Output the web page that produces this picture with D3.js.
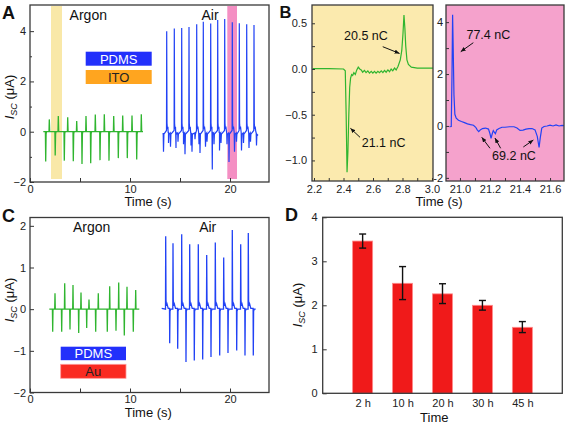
<!DOCTYPE html>
<html><head><meta charset="utf-8">
<script src="https://cdn.jsdelivr.net/npm/d3@7"></script>
<style>body{margin:0;background:#fff}svg{display:block}</style>
</head><body><svg id="c" width="567" height="423"></svg>
<script>
const FONT = "Arial, 'Liberation Sans', sans-serif";

// ---------- Panel A data (PDMS / ITO) ----------
const argonA_negT = [1.57, 2.52, 3.43, 4.33, 5.2, 6.07, 7.0, 7.9, 8.83, 9.73, 10.67];
const argonA_negV = [-1.18, -0.95, -1.15, -1.17, -1.28, -1.25, -1.13, -1.15, -1.05, -1.05, -1.1];
const argonA_posT = [1.93, 2.83, 3.77, 4.67, 5.6, 6.53, 7.43, 8.37, 9.27, 10.2, 11.13];
const argonA_posV = [0.49, 0.62, 0.57, 0.43, 0.62, 0.68, 0.69, 0.62, 0.64, 0.64, 0.69];
const airA_posT = [13.67, 14.43, 15.17, 15.9, 16.67, 17.33, 18.07, 18.77, 19.47, 20.23, 20.93, 21.67, 22.4];
const airA_posV = [4.0, 4.11, 4.13, 4.16, 4.27, 4.37, 4.3, 4.44, 4.48, 4.35, 4.31, 4.27, 4.24];
const airA_dipT = [13.35, 13.85, 14.05, 14.6, 14.8, 15.35, 15.5, 16.1, 16.2, 16.5, 16.9, 17.0, 17.55, 17.7, 18.23, 18.4, 18.95, 19.1, 19.7, 19.9, 20.45, 20.65, 21.15, 21.35, 21.9, 22.05, 22.65];
const airA_dipV = [-0.8, -0.45, -0.6, -0.65, -0.4, -0.5, -0.9, -0.55, -0.8, -0.3, -0.5, -0.85, -0.6, -0.4, -1.5, -0.5, -0.75, -0.45, -0.5, -1.2, -0.8, -0.4, -0.75, -0.45, -0.65, -0.4, -0.55];
const bandsA = [[2.1, 3.2], [19.73, 20.7]];

// ---------- Panel B data ----------
const zoomArgonT = [2.19, 2.30, 2.40, 2.412, 2.418, 2.424, 2.430, 2.436, 2.442, 2.448, 2.455, 2.462, 2.47, 2.48, 2.49, 2.50, 2.51,
  2.52, 2.53, 2.542, 2.553, 2.565, 2.576, 2.588, 2.599, 2.61, 2.621, 2.633, 2.644, 2.656, 2.667, 2.678, 2.689, 2.701, 2.712, 2.723, 2.734, 2.746, 2.757,
  2.77, 2.785, 2.795, 2.803, 2.81, 2.816, 2.822, 2.83, 2.84, 2.86, 2.9, 2.95, 3.01];
const zoomArgonV = [0.005, 0.005, 0.0, -0.02, -0.5, -1.13, -0.9, -0.5, -0.2, -0.1, -0.06, -0.07, -0.04, -0.06, -0.01, 0.02, 0.0,
  -0.01, -0.035, -0.015, -0.04, -0.02, -0.045, -0.025, -0.045, -0.025, -0.045, -0.025, -0.04, -0.02, -0.04, -0.015, -0.035, -0.01, -0.03, 0.0, -0.02, 0.01, -0.01,
  0.03, 0.1, 0.2, 0.38, 0.59, 0.45, 0.25, 0.1, 0.05, 0.02, 0.01, 0.01, 0.01];
const zoomAirT = [20.93, 20.942, 20.947, 20.951, 20.955, 20.96, 20.966, 20.975, 20.99, 21.01, 21.03, 21.05, 21.07, 21.09, 21.105, 21.115, 21.125, 21.135, 21.15, 21.17, 21.19, 21.2, 21.207, 21.215, 21.222, 21.23, 21.236, 21.245, 21.26, 21.28, 21.3, 21.33, 21.36, 21.38, 21.4, 21.42, 21.44, 21.46, 21.48, 21.5, 21.515, 21.527, 21.535, 21.545, 21.56, 21.58, 21.6, 21.62, 21.64, 21.66, 21.68, 21.695];
const zoomAirV = [-0.03, -0.02, 2.0, 4.28, 3.0, 1.2, 0.45, 0.3, 0.22, 0.17, 0.13, 0.08, 0.05, 0.03, -0.05, -0.15, -0.22, -0.15, -0.1, -0.08, -0.12, -0.3, -0.48, -0.3, -0.18, -0.25, -0.3, -0.15, -0.1, -0.05, -0.05, -0.03, -0.03, -0.08, -0.17, -0.16, -0.12, -0.1, -0.1, -0.15, -0.4, -0.83, -0.45, -0.08, -0.02, 0.0, 0.03, 0.0, 0.04, 0.0, 0.02, 0.01];

// ---------- Panel C data (PDMS / Au) ----------
const argonC_negT = [2.27, 3.17, 4.0, 4.87, 5.67, 6.57, 7.73, 8.6, 9.43, 10.33];
const argonC_negV = [-0.54, -0.54, -0.49, -0.57, -0.45, -0.54, -0.54, -0.52, -0.63, -0.54];
const argonC_posT = [2.5, 3.47, 4.3, 5.1, 5.9, 6.83, 7.97, 8.87, 9.7, 10.57];
const argonC_posV = [0.38, 0.62, 0.58, 0.4, 0.23, 0.38, 0.55, 0.64, 0.54, 0.46];
const airC_posT = [13.57, 14.3, 15.17, 15.97, 16.83, 17.67, 18.53, 19.37, 20.23, 21.07, 21.83];
const airC_posV = [1.75, 1.58, 1.8, 1.56, 1.56, 1.3, 1.6, 1.24, 1.9, 1.56, 1.83];
const airC_negT = [13.97, 14.77, 15.6, 16.43, 17.27, 18.1, 18.97, 19.8, 20.67, 21.5, 22.33];
const airC_negV = [-0.82, -0.95, -1.27, -1.23, -1.21, -1.15, -1.11, -1.05, -0.99, -1.11, -1.11];

// ---------- Panel D data ----------
const timeCats = ["2 h", "10 h", "20 h", "30 h", "45 h"];
const iscMean = [3.46, 2.5, 2.26, 2.0, 1.5];
const iscHi = [3.62, 2.88, 2.49, 2.11, 1.63];
const iscLo = [3.30, 2.13, 2.04, 1.89, 1.38];

// ---------- colours ----------
const GREEN = "#2fb52f", BLUE = "#2142f5", FRAME = "#3a3a3a";

const svg = d3.select("#c").attr("font-family", FONT);
const defs = svg.append("defs");
defs.append("marker").attr("id", "ah").attr("viewBox", "0 0 6 6").attr("refX", 6).attr("refY", 3)
  .attr("markerWidth", 5).attr("markerHeight", 5).attr("markerUnits", "userSpaceOnUse").attr("orient", "auto")
  .append("path").attr("d", "M0,0.5L6,3L0,5.5z").attr("fill", "#111");

function clip(id, x0, y0, x1, y1) {
  defs.append("clipPath").attr("id", id).append("rect").attr("x", x0).attr("y", y0).attr("width", x1 - x0).attr("height", y1 - y0);
  return "url(#" + id + ")";
}
function styleAxis(a, fs) {
  a.select(".domain").remove();
  a.selectAll("line").attr("stroke", "#333").attr("stroke-width", 1);
  a.selectAll("text").attr("font-size", fs || 11).attr("font-family", FONT).attr("fill", "#222");
  return a;
}
function frame(x0, y0, x1, y1) {
  svg.append("rect").attr("x", x0).attr("y", y0).attr("width", x1 - x0).attr("height", y1 - y0)
    .attr("fill", "none").attr("stroke", FRAME).attr("stroke-width", 1.3);
}
function ylab(x, y, clipUrl) {
  const t = svg.append("text").attr("transform", `translate(${x},${y}) rotate(-90)`).attr("text-anchor", "middle")
    .attr("font-size", 13).attr("fill", "#111");
  if (clipUrl) t.attr("clip-path", clipUrl);
  t.append("tspan").attr("font-style", "italic").text("I");
  t.append("tspan").attr("font-style", "italic").attr("font-size", 9).attr("dy", 3).text("SC");
  t.append("tspan").attr("dy", -3).text(" (μA)");
}
function txt(x, y, s, fs, opts) {
  const t = svg.append("text").attr("x", x).attr("y", y).attr("font-size", fs).attr("fill", "#111").text(s);
  if (opts) Object.entries(opts).forEach(([k, v]) => t.attr(k, v));
  return t;
}
function buildTrace(start, end, groups) {
  const pts = [start];
  groups.forEach(g => pts.push(...g));
  pts.push(end);
  pts.sort((a, b) => a[0] - b[0]);
  return pts;
}

// ================= Panel A =================
const A = { x0: 30, x1: 269, y0: 5, y1: 182 };
const xA = d3.scaleLinear().domain([0, 23.9]).range([A.x0, A.x1]);
const yA = d3.scaleLinear().domain([-2, 5.04]).range([A.y1, A.y0]);
const clipA = clip("cA", A.x0, A.y0, A.x1, A.y1);
svg.append("g").selectAll("rect").data(bandsA).join("rect")
  .attr("x", d => xA(d[0])).attr("width", d => xA(d[1]) - xA(d[0]))
  .attr("y", A.y0 + 1).attr("height", A.y1 - A.y0 - 4)
  .attr("fill", (d, i) => i === 0 ? "#f9e8a8" : "#f48fc3");
const lineA = d3.line().x(d => xA(d[0])).y(d => yA(d[1]));
const argonA = buildTrace([1.33, 0], [11.3, 0.0], [
  ...argonA_negT.map((t, i) => [[t - 0.03, 0], [t, argonA_negV[i]], [t + 0.04, -0.08], [t + 0.09, 0]]),
  ...argonA_posT.map((t, i) => [[t - 0.03, 0], [t, argonA_posV[i]], [t + 0.04, 0]])
]);
const airA = buildTrace([13.3, -0.1], [22.8, -0.15], [
  ...airA_posT.map((t, i) => [[t - 0.02, 0.05], [t, airA_posV[i]], [t + 0.03, 0.35], [t + 0.07, 0.1], [t + 0.12, 0.2], [t + 0.18, 0.0]]),
  ...airA_dipT.map((t, i) => [[t - 0.03, -0.05], [t, airA_dipV[i]], [t + 0.04, -0.1]])
]);
const gA = svg.append("g").attr("clip-path", clipA);
gA.append("path").attr("d", lineA(argonA)).attr("fill", "none").attr("stroke", GREEN).attr("stroke-width", 1.3);
gA.append("path").attr("d", lineA(airA)).attr("fill", "none").attr("stroke", BLUE).attr("stroke-width", 1.2);
styleAxis(svg.append("g").attr("transform", `translate(0,${A.y1})`)
  .call(d3.axisBottom(xA).tickValues([0, 5, 10, 15, 20]).tickSize(-4).tickPadding(3).tickFormat(d => d % 10 === 0 ? d : "")));
styleAxis(svg.append("g").attr("transform", `translate(${A.x0},0)`)
  .call(d3.axisLeft(yA).tickValues([-2, 0, 2, 4]).tickSize(-4).tickPadding(4).tickFormat(d3.format("d"))));
styleAxis(svg.append("g").attr("transform", `translate(${A.x0},0)`)
  .call(d3.axisLeft(yA).tickValues([-1, 1, 3]).tickSize(-2).tickFormat("")));
// legend boxes
svg.append("rect").attr("x", 85.7).attr("y", 51.7).attr("width", 66).attr("height", 14).attr("fill", "#2230fb");
txt(118.7, 58.9, "PDMS", 13, { "text-anchor": "middle", dy: "0.36em", fill: "#fff" });
svg.append("rect").attr("x", 85.7).attr("y", 70).attr("width", 66).attr("height", 14).attr("fill", "#ffa51f");
txt(118.7, 77.2, "ITO", 13, { "text-anchor": "middle", dy: "0.36em", fill: "#222" });
txt(88.3, 20, "Argon", 14, { "text-anchor": "middle" });
txt(210, 20, "Air", 14, { "text-anchor": "middle" });
frame(A.x0, A.y0, A.x1, A.y1);
ylab(14, 97);
txt(148, 206, "Time (s)", 13, { "text-anchor": "middle" });
txt(2, 19, "A", 18, { "font-weight": "bold" });

// ================= Panel B =================
const B1 = { x0: 312, x1: 433, y0: 5, y1: 181 };
const B2 = { x0: 446, x1: 564, y0: 5, y1: 181 };
const xB1 = d3.scaleLinear().domain([2.1864, 3.0068]).range([B1.x0, B1.x1]);
const yB1 = d3.scaleLinear().domain([-1.225, 0.7]).range([B1.y1, B1.y0]);
const xB2 = d3.scaleLinear().domain([20.907, 21.693]).range([B2.x0, B2.x1]);
const yB2 = d3.scaleLinear().domain([-2.12, 4.66]).range([B2.y1, B2.y0]);
svg.append("rect").attr("x", B1.x0).attr("y", B1.y0).attr("width", B1.x1 - B1.x0).attr("height", B1.y1 - B1.y0).attr("fill", "#fbeaae");
svg.append("rect").attr("x", B2.x0).attr("y", B2.y0).attr("width", B2.x1 - B2.x0).attr("height", B2.y1 - B2.y0).attr("fill", "#f5a2cc");
const clipB1 = clip("cB1", B1.x0, B1.y0, B1.x1, B1.y1), clipB2 = clip("cB2", B2.x0, B2.y0, B2.x1, B2.y1);
svg.append("path").attr("clip-path", clipB1)
  .attr("d", d3.line().x(d => xB1(d[0])).y(d => yB1(d[1]))(zoomArgonT.map((t, i) => [t, zoomArgonV[i]])))
  .attr("fill", "none").attr("stroke", GREEN).attr("stroke-width", 1.2);
svg.append("path").attr("clip-path", clipB2)
  .attr("d", d3.line().x(d => xB2(d[0])).y(d => yB2(d[1]))(zoomAirT.map((t, i) => [t, zoomAirV[i]])))
  .attr("fill", "none").attr("stroke", BLUE).attr("stroke-width", 1.2);
styleAxis(svg.append("g").attr("transform", `translate(0,${B1.y1})`)
  .call(d3.axisBottom(xB1).tickValues([2.2, 2.3, 2.4, 2.5, 2.6, 2.7, 2.8, 2.9, 3.0]).tickSize(-3).tickPadding(4)
    .tickFormat(d => (Math.round(d * 10) % 2 === 0) ? d3.format(".1f")(d) : "")));
styleAxis(svg.append("g").attr("transform", `translate(0,${B2.y1})`)
  .call(d3.axisBottom(xB2).tickValues([21.0, 21.1, 21.2, 21.3, 21.4, 21.5, 21.6]).tickSize(-3).tickPadding(4)
    .tickFormat(d => (Math.round(d * 10) % 2 === 0) ? d3.format(".1f")(d) : "")));
styleAxis(svg.append("g").attr("transform", `translate(${B1.x0},0)`)
  .call(d3.axisLeft(yB1).tickValues([0.5, 0.25, 0, -0.25, -0.5, -0.75, -1.0]).tickSize(-3).tickPadding(5)
    .tickFormat(d => (Math.abs(d * 2 - Math.round(d * 2)) < 1e-6) ? d3.format(".1f")(d) : "")));
styleAxis(svg.append("g").attr("transform", `translate(${B2.x0},0)`)
  .call(d3.axisLeft(yB2).tickValues([4, 3, 2, 1, 0, -1, -2]).tickSize(-3).tickPadding(3)
    .tickFormat(d => d % 2 === 0 ? d : "")));
// annotations
function arrow(x, y, a, b) {
  svg.append("line").attr("x1", x(a[0])).attr("y1", y(a[1])).attr("x2", x(b[0])).attr("y2", y(b[1]))
    .attr("stroke", "#111").attr("stroke-width", 1).attr("marker-end", "url(#ah)");
}
txt(xB1(2.552), yB1(0.36), "20.5 nC", 12.5, { "text-anchor": "middle", dy: "0.35em" });
arrow(xB1, yB1, [2.666, 0.244], [2.78, 0.17]);
txt(xB1(2.672), yB1(-0.806), "21.1 nC", 12.5, { "text-anchor": "middle", dy: "0.35em" });
arrow(xB1, yB1, [2.512, -0.747], [2.447, -0.649]);
txt(xB2(21.189), yB2(3.504), "77.4 nC", 12.5, { "text-anchor": "middle", dy: "0.35em" });
arrow(xB2, yB2, [21.089, 3.208], [21.005, 2.861]);
txt(xB2(21.36), yB2(-1.157), "69.2 nC", 12.5, { "text-anchor": "middle", dy: "0.35em" });
arrow(xB2, yB2, [21.2, -0.86], [21.145, -0.437]);
arrow(xB2, yB2, [21.271, -0.86], [21.233, -0.464]);
arrow(xB2, yB2, [21.422, -0.81], [21.489, -0.54]);
frame(B1.x0, B1.y0, B1.x1, B1.y1);
frame(B2.x0, B2.y0, B2.x1, B2.y1);
ylab(296, 95, clip("cBl", 287, 0, 320, 210));
txt(439, 206, "Time (s)", 13, { "text-anchor": "middle" });
txt(279.5, 18, "B", 16.5, { "font-weight": "bold" });

// ================= Panel C =================
const C = { x0: 30, x1: 269, y0: 217.5, y1: 392.5 };
const xC = d3.scaleLinear().domain([0, 23.9]).range([C.x0, C.x1]);
const yC = d3.scaleLinear().domain([-2, 2.2]).range([C.y1, C.y0]);
const lineC = d3.line().x(d => xC(d[0])).y(d => yC(d[1]));
const argonC = buildTrace([1.93, 0], [10.93, 0], [
  ...argonC_negT.map((t, i) => [[t - 0.03, 0], [t, argonC_negV[i]], [t + 0.03, 0]]),
  ...argonC_posT.map((t, i) => [[t - 0.03, 0], [t, argonC_posV[i]], [t + 0.03, 0]])
]);
const airC = buildTrace([13.17, 0.02], [22.57, 0], [
  ...airC_posT.map((t, i) => [[t - 0.02, 0], [t, airC_posV[i]], [t + 0.03, 0.22], [t + 0.08, 0.08], [t + 0.14, 0.12], [t + 0.25, 0.02]]),
  ...airC_negT.map((t, i) => [[t - 0.02, 0.02], [t, airC_negV[i]], [t + 0.03, -0.05], [t + 0.1, 0]])
]);
const gC = svg.append("g").attr("clip-path", clip("cC", C.x0, C.y0, C.x1, C.y1));
gC.append("path").attr("d", lineC(argonC)).attr("fill", "none").attr("stroke", GREEN).attr("stroke-width", 1.3);
gC.append("path").attr("d", lineC(airC)).attr("fill", "none").attr("stroke", BLUE).attr("stroke-width", 1.3);
styleAxis(svg.append("g").attr("transform", `translate(0,${C.y1})`)
  .call(d3.axisBottom(xC).tickValues([0, 5, 10, 15, 20]).tickSize(-4).tickPadding(3).tickFormat(d => d % 10 === 0 ? d : "")));
styleAxis(svg.append("g").attr("transform", `translate(${C.x0},0)`)
  .call(d3.axisLeft(yC).tickValues([-2, -1, 0, 1, 2]).tickSize(-4).tickPadding(4).tickFormat(d3.format("d"))));
svg.append("rect").attr("x", 60.7).attr("y", 346.7).attr("width", 65.3).attr("height", 13.5).attr("fill", "#2230fb");
txt(93.3, 353.6, "PDMS", 13, { "text-anchor": "middle", dy: "0.36em", fill: "#fff" });
svg.append("rect").attr("x", 60.7).attr("y", 364.3).attr("width", 65.3).attr("height", 14).attr("fill", "#fa2b22")
  .attr("stroke", "#ff9a9a").attr("stroke-width", 0.8);
txt(93.3, 371.5, "Au", 13, { "text-anchor": "middle", dy: "0.36em", fill: "#222" });
txt(91.7, 232, "Argon", 14, { "text-anchor": "middle" });
txt(207.7, 231.5, "Air", 14, { "text-anchor": "middle" });
frame(C.x0, C.y0, C.x1, C.y1);
ylab(14, 300);
txt(148.3, 417, "Time (s)", 13, { "text-anchor": "middle" });
txt(2, 221.5, "C", 18, { "font-weight": "bold" });

// ================= Panel D =================
const D = { x0: 322.7, x1: 562.3, y0: 217.3, y1: 393.3 };
const xD = d3.scalePoint().domain(timeCats).range([D.x0, D.x1]).padding(1);
const yD = d3.scaleLinear().domain([0, 4]).range([D.y1, D.y0]);
const bw = 20;
svg.append("g").selectAll("rect").data(timeCats).join("rect")
  .attr("x", d => xD(d) - bw / 2).attr("width", bw)
  .attr("y", (d, i) => yD(iscMean[i])).attr("height", (d, i) => yD(0) - yD(iscMean[i]))
  .attr("fill", "#f01a1a").attr("stroke", "#ff8a8a").attr("stroke-width", 0.8);
const eb = svg.append("g").attr("stroke", "#111").attr("stroke-width", 1.4);
timeCats.forEach((c, i) => {
  const cx = xD(c);
  eb.append("line").attr("x1", cx).attr("x2", cx).attr("y1", yD(iscLo[i])).attr("y2", yD(iscHi[i]));
  eb.append("line").attr("x1", cx - 3.5).attr("x2", cx + 3.5).attr("y1", yD(iscLo[i])).attr("y2", yD(iscLo[i]));
  eb.append("line").attr("x1", cx - 3.5).attr("x2", cx + 3.5).attr("y1", yD(iscHi[i])).attr("y2", yD(iscHi[i]));
});
styleAxis(svg.append("g").attr("transform", `translate(0,${D.y1})`)
  .call(d3.axisBottom(xD).tickSize(0).tickPadding(6)));
styleAxis(svg.append("g").attr("transform", `translate(${D.x0},0)`)
  .call(d3.axisLeft(yD).tickValues([0, 1, 2, 3, 4]).tickSize(-4).tickPadding(5).tickFormat(d3.format("d"))));
frame(D.x0, D.y0, D.x1, D.y1);
ylab(302, 305);
txt(434.3, 421.5, "Time", 13, { "text-anchor": "middle" });
txt(285, 220.5, "D", 18, { "font-weight": "bold" });
</script></body></html>
